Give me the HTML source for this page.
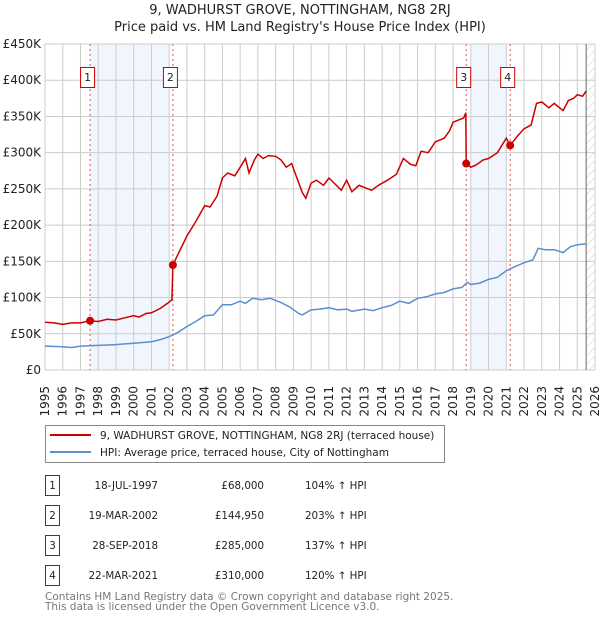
<!DOCTYPE html>
<html><head><meta charset="utf-8"><style>
body{margin:0;background:#fff;}
svg{font-family:"DejaVu Sans","Liberation Sans",sans-serif;}
</style></head><body>
<svg id="chart" width="600" height="620" viewBox="0 0 600 620">
<defs><pattern id="hatch" width="6" height="6" patternUnits="userSpaceOnUse" patternTransform="rotate(45)"><line x1="0" y1="0" x2="0" y2="6" stroke="#ccc" stroke-width="1"/></pattern></defs>
<text x="300" y="14" text-anchor="middle" font-size="13" fill="#222">9, WADHURST GROVE, NOTTINGHAM, NG8 2RJ</text>
<text x="300" y="31" text-anchor="middle" font-size="13" fill="#222">Price paid vs. HM Land Registry's House Price Index (HPI)</text>
<g id="plot"></g>
<g>
<rect x="45.5" y="425.5" width="399" height="37" fill="#fff" stroke="#888"/>
<line x1="50" y1="435" x2="91" y2="435" stroke="#cc0000" stroke-width="2"/>
<text x="100" y="439" font-size="10.5" fill="#222">9, WADHURST GROVE, NOTTINGHAM, NG8 2RJ (terraced house)</text>
<line x1="50" y1="452" x2="91" y2="452" stroke="#5b8fd0" stroke-width="2"/>
<text x="100" y="456" font-size="10.5" fill="#222">HPI: Average price, terraced house, City of Nottingham</text>
</g>
<g id="table" font-size="10.3" fill="#222"></g>
<text x="45" y="600" font-size="10.5" fill="#777">Contains HM Land Registry data © Crown copyright and database right 2025.</text>
<text x="45" y="610" font-size="10.5" fill="#777">This data is licensed under the Open Government Licence v3.0.</text>
</svg>
<script>
const yTicks=[0,50,100,150,200,250,300,350,400,450];
const yLabels=["£0","£50K","£100K","£150K","£200K","£250K","£300K","£350K","£400K","£450K"];
const years=[1995,1996,1997,1998,1999,2000,2001,2002,2003,2004,2005,2006,2007,2008,2009,2010,2011,2012,2013,2014,2015,2016,2017,2018,2019,2020,2021,2022,2023,2024,2025,2026];
const saleDates=[1997.54,2002.21,2018.74,2021.22];
const saleValues=[68,144.95,285,310];
const saleLabels=["1","2","3","4"];
const saleDateText=["18-JUL-1997","19-MAR-2002","28-SEP-2018","22-MAR-2021"];
const salePriceText=["£68,000","£144,950","£285,000","£310,000"];
const saleHpiText=["104% ↑ HPI","203% ↑ HPI","137% ↑ HPI","120% ↑ HPI"];
const propT=[1995,1995.5,1996,1996.5,1997,1997.54,1998,1998.5,1999,1999.5,2000,2000.3,2000.7,2001,2001.5,2001.9,2002.15,2002.21,2002.5,2003,2003.5,2004,2004.3,2004.7,2005,2005.3,2005.7,2006,2006.3,2006.5,2006.8,2007,2007.3,2007.6,2008,2008.3,2008.6,2008.9,2009.2,2009.5,2009.7,2010,2010.3,2010.7,2011,2011.3,2011.7,2012,2012.3,2012.7,2013,2013.4,2013.8,2014.3,2014.8,2015.2,2015.6,2015.9,2016.2,2016.6,2017,2017.5,2017.8,2018,2018.3,2018.6,2018.72,2018.74,2019,2019.3,2019.7,2020,2020.5,2020.8,2021.0,2021.22,2021.6,2022,2022.4,2022.7,2023,2023.4,2023.7,2024.2,2024.5,2024.8,2025.0,2025.3,2025.5];
const propV=[66,65,63,65,65,68,67,70,69,72,75,73,78,79,85,92,97,145,160,185,205,227,225,240,265,272,268,280,292,272,290,298,292,296,295,290,280,285,265,245,237,258,262,255,265,258,248,262,246,255,252,248,255,262,270,292,284,282,302,300,315,320,330,342,345,348,355,285,280,283,290,292,300,312,320,310,322,333,338,368,370,362,368,358,372,375,380,378,385];
const hpiT=[1995,1996,1996.5,1997,1998,1999,2000,2001,2001.5,2002,2002.5,2003,2003.5,2004,2004.5,2005,2005.5,2006,2006.3,2006.7,2007.2,2007.7,2008.3,2008.8,2009.3,2009.5,2010,2010.5,2011,2011.5,2012,2012.3,2013,2013.5,2014,2014.5,2015,2015.5,2016,2016.5,2017,2017.5,2018,2018.5,2018.8,2019,2019.5,2020,2020.5,2021,2021.5,2022,2022.5,2022.8,2023.2,2023.7,2024.2,2024.6,2025,2025.5];
const hpiV=[33,32,31,33,34,35,37,39,42,46,52,60,67,75,76,90,90,95,92,99,97,99,93,87,78,76,83,84,86,83,84,81,84,82,86,89,95,92,99,101,105,107,112,114,121,118,120,125,128,137,143,148,152,168,166,166,162,170,173,174];

const L=45,R=595,T=44,B=370,X0=1995,X1=2026,YMAX=450;
const xs=t=>L+(t-X0)/(X1-X0)*(R-L);
const ys=v=>B-v/YMAX*(B-T);
const NS="http://www.w3.org/2000/svg";
const plot=document.getElementById('plot');
function mk(tag,attrs,parent){const e=document.createElementNS(NS,tag);for(const k in attrs)e.setAttribute(k,attrs[k]);(parent||plot).appendChild(e);return e;}

let e;
e=mk('rect',{x:xs(saleDates[0]),y:T,width:xs(2002)-xs(saleDates[0]),height:B-T,fill:'#eef3fc',opacity:0.8});


e=mk('rect',{x:xs(2019),y:T,width:xs(2021)-xs(2019),height:B-T,fill:'#eef3fc',opacity:0.8});


e=mk('rect',{x:xs(2025.5),y:T,width:R-xs(2025.5),height:B-T,fill:'url(#hatch)'});



years.forEach(y=>{
 e=mk('line',{x1:xs(y),x2:xs(y),y1:T,y2:B,stroke:'#ccc','stroke-width':1});
 
 
 const tx=xs(y)+4, ty=B+16;
 e=mk('text',{x:tx,y:ty,'font-size':12,fill:'#222','text-anchor':'end',transform:`rotate(-90 ${tx} ${ty})`});
 e.textContent=y;
 
 
});
yTicks.forEach((v,i)=>{
 e=mk('line',{x1:L,x2:R,y1:ys(v),y2:ys(v),stroke:'#ccc','stroke-width':1});
 
 
 e=mk('text',{x:L-4,y:ys(v)+4,'font-size':12,fill:'#222','text-anchor':'end'});
 e.textContent=yLabels[i];
 
 
});
e=mk('line',{x1:xs(2025.5),x2:xs(2025.5),y1:T,y2:B,stroke:'#666','stroke-width':1});



saleDates.forEach((d,i)=>{
 e=mk('line',{x1:xs(d),x2:xs(d),y1:T,y2:B,stroke:'#e05050','stroke-width':1,'stroke-dasharray':'2,3'});
 
 
});

const path=(t,v)=>t.map((x,i)=>(i?'L':'M')+xs(x).toFixed(1)+','+ys(v[i]).toFixed(1)).join('');
e=mk('path',{d:path(hpiT,hpiV),fill:'none',stroke:'#5b8fd0','stroke-width':1.5});


e=mk('path',{d:path(propT,propV),fill:'none',stroke:'#cc0000','stroke-width':1.5});



saleDates.forEach((d,i)=>{
 e=mk('circle',{cx:xs(d),cy:ys(saleValues[i]),r:4,fill:'#cc0000'});
 
 
 const bx=xs(d)-2.5;
 e=mk('rect',{x:bx-7,y:67.5,width:14,height:20,fill:'#fff',stroke:'#cc0000','stroke-width':1});
 
 
 e=mk('text',{x:bx,y:81,'font-size':11,fill:'#222','text-anchor':'middle'});
 e.textContent=saleLabels[i];
 
 
});

const table=document.getElementById('table');
saleLabels.forEach((lab,i)=>{
 const y=475+i*30;
 e=mk('rect',{x:45.5,y:y+0.5,width:14,height:20,fill:'#fff',stroke:'#cc0000'},table);
 
 
 e=mk('text',{x:52.5,y:y+14,'text-anchor':'middle'},table);
 e.textContent=lab;
 
 
 e=mk('text',{x:158,y:y+14,'text-anchor':'end'},table);
 e.textContent=saleDateText[i];
 
 
 e=mk('text',{x:264,y:y+14,'text-anchor':'end'},table);
 e.textContent=salePriceText[i];
 
 
 e=mk('text',{x:305,y:y+14},table);
 e.textContent=saleHpiText[i];
 
 
});
</script>
</body></html>
